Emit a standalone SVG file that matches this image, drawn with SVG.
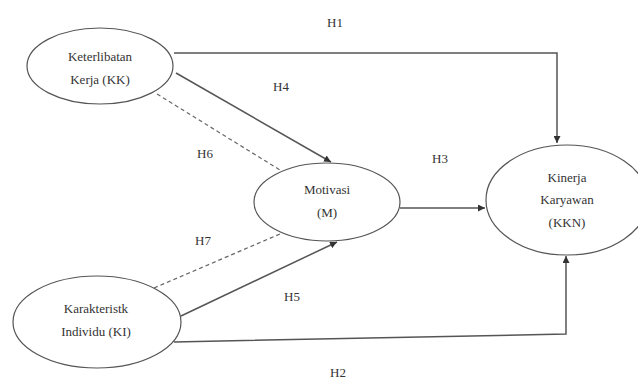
<svg xmlns="http://www.w3.org/2000/svg" width="638" height="379" viewBox="0 0 638 379">
<style>
.node ellipse{fill:#fff;stroke:#555;stroke-width:1.2}
.t{font-family:'Liberation Serif','Times New Roman',serif;font-size:13px;fill:#333;text-anchor:middle}
.c{fill:none;stroke:#555;stroke-width:1.5}
.d{fill:none;stroke:#666;stroke-width:1.2;stroke-dasharray:4 3}
</style>
<defs>
<marker id="ah" viewBox="0 0 10 10" refX="10" refY="5" markerWidth="7" markerHeight="7" markerUnits="userSpaceOnUse" orient="auto">
<path d="M0,0 L10,5 L0,10 z" fill="#333"/>
</marker>
</defs>
<rect width="638" height="379" fill="#fff"/>
<g id="connectors">
<polyline class="c" points="174,53 557,53 557,143" marker-end="url(#ah)"/>
<line class="c" x1="176" y1="73" x2="331" y2="162" marker-end="url(#ah)"/>
<line class="d" x1="157" y1="94" x2="280" y2="170"/>
<line class="c" x1="400" y1="208" x2="485" y2="208" marker-end="url(#ah)"/>
<line class="d" x1="154" y1="288" x2="280" y2="234"/>
<line class="c" x1="181" y1="316" x2="337" y2="242" marker-end="url(#ah)"/>
<polyline class="c" points="174,342 566,334 566,256" marker-end="url(#ah)"/>
</g>
<g id="labels">
<text class="t" font-family="Liberation Serif, serif" x="335" y="27">H1</text>
<text class="t" font-family="Liberation Serif, serif" x="281" y="91">H4</text>
<text class="t" font-family="Liberation Serif, serif" x="205" y="158">H6</text>
<text class="t" font-family="Liberation Serif, serif" x="440" y="163">H3</text>
<text class="t" font-family="Liberation Serif, serif" x="203" y="245">H7</text>
<text class="t" font-family="Liberation Serif, serif" x="292" y="301">H5</text>
<text class="t" font-family="Liberation Serif, serif" x="338" y="377">H2</text>
</g>
<g id="node-kk" class="node">
<ellipse cx="100" cy="66" rx="73" ry="38"/>
<text class="t" font-family="Liberation Serif, serif" x="100" y="61">Keterlibatan</text>
<text class="t" font-family="Liberation Serif, serif" x="100" y="84">Kerja (KK)</text>
</g>
<g id="node-ki" class="node">
<ellipse cx="97" cy="322" rx="84" ry="46"/>
<text class="t" font-family="Liberation Serif, serif" x="96" y="313">Karakteristk</text>
<text class="t" font-family="Liberation Serif, serif" x="96" y="336">Individu (KI)</text>
</g>
<g id="node-m" class="node">
<ellipse cx="327" cy="202" rx="73" ry="39"/>
<text class="t" font-family="Liberation Serif, serif" x="327" y="194">Motivasi</text>
<text class="t" font-family="Liberation Serif, serif" x="327" y="217">(M)</text>
</g>
<g id="node-kkn" class="node">
<ellipse cx="567" cy="200" rx="81" ry="55"/>
<text class="t" font-family="Liberation Serif, serif" x="567" y="182">Kinerja</text>
<text class="t" font-family="Liberation Serif, serif" x="567" y="204">Karyawan</text>
<text class="t" font-family="Liberation Serif, serif" x="567" y="227">(KKN)</text>
</g>
</svg>
